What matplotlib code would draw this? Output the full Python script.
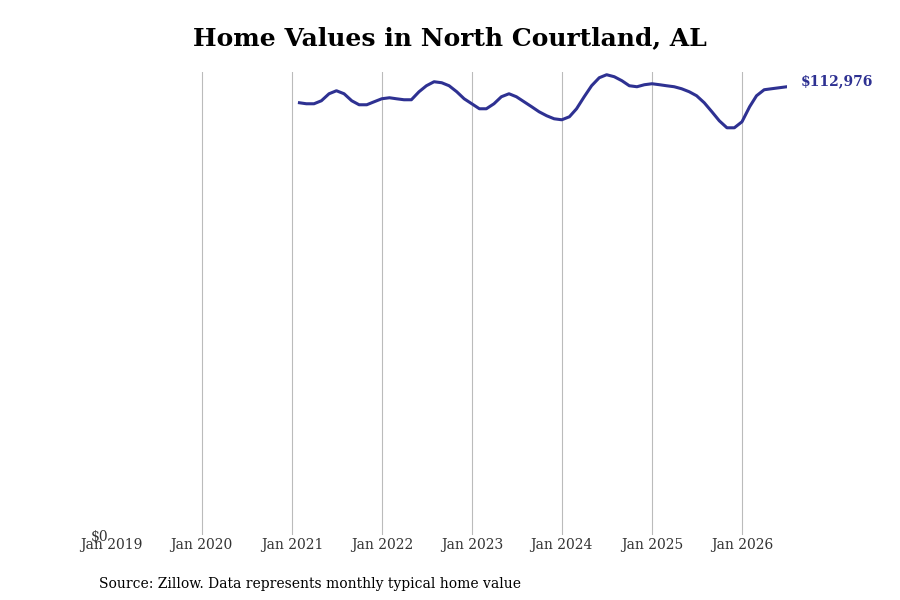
import matplotlib
matplotlib.use("Agg")
import matplotlib.pyplot as plt
import pandas as pd

px_y = [103,104,104,101,94,91,94,101,105,105,102,99,98,99,100,100,92,86,82,83,86,92,99,104,109,109,104,97,94,97,102,107,112,116,119,120,117,109,97,86,78,75,77,81,86,87,85,84,85,86,87,89,92,96,103,112,121,128,128,122,107,96,90,89,88,87]
values = [round((535 - p) * 252.2) for p in px_y]
values[-1] = 112976
dates = pd.date_range("2021-02-01", periods=len(values), freq="MS")
tick_years = list(range(2019, 2027))
color = "#2e3192"

plt.rcParams['font.family'] = ['DejaVu Serif']
fig = plt.figure(figsize=(9, 6), dpi=100)
ax = fig.add_axes([0.124, 0.108, 0.75, 0.772])
ax.plot(dates, values, color=color, lw=2.2)
ax.set_xlim(pd.Timestamp("2019-01-01"), pd.Timestamp("2026-07-01"))
ax.set_ylim(0, 116700)
ax.set_xticks([pd.Timestamp(f"{y}-01-01") for y in tick_years])
ax.set_xticklabels([f"Jan {y}" for y in tick_years], fontsize=10, color="#333333")
ax.set_yticks([0]); ax.set_yticklabels(["$0"], fontsize=10, color="#333333")
ax.tick_params(length=0, pad=2)
ax.xaxis.grid(True, color="#bbbbbb", lw=0.8)
ax.get_xgridlines()[0].set_visible(False)
for s in ax.spines.values(): s.set_visible(False)
ax.annotate(f"${values[-1]:,}", (dates[-1], values[-1]), xytext=(10, 4), textcoords="offset points",
            color=color, fontsize=10, fontweight="bold", va="center")
fig.text(0.5, 0.925, "Home Values in North Courtland, AL", ha="center", fontsize=18, fontweight="bold")
fig.text(0.11, 0.02, "Source: Zillow. Data represents monthly typical home value", fontsize=10)
fig.savefig("out.png")
